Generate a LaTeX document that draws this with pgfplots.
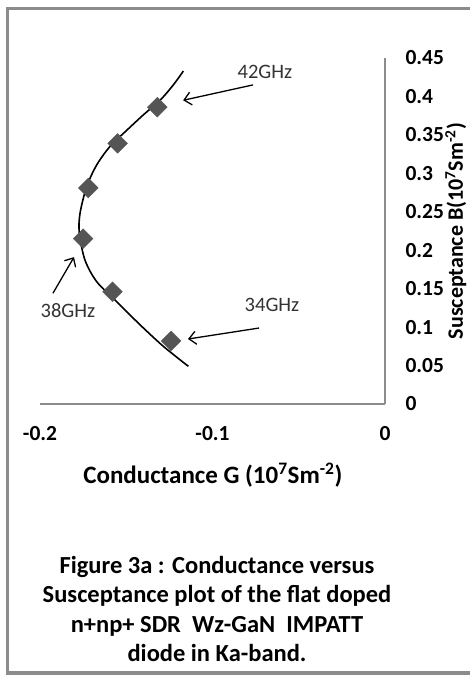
\documentclass[border=0pt]{standalone}
\usepackage{pgfplots}
\pgfplotsset{compat=1.18}
\usepackage{fontspec}
\setmainfont{Carlito}
\usetikzlibrary{arrows.meta}

\definecolor{framegray}{HTML}{8C8C8C}
\definecolor{axisgray}{HTML}{8C8C8C}
\definecolor{markgray}{HTML}{555555}
\definecolor{notegray}{HTML}{333333}

% measured points of the G-B locus (34 GHz ... 42 GHz)
\pgfplotstableread{
G       B
-0.124  0.082
-0.158  0.146
-0.175  0.215
-0.172  0.281
-0.155  0.339
-0.132  0.386
}\points

% fitted admittance curve
\pgfplotstableread{
G        B
-0.114   0.049
-0.1285  0.075
-0.142   0.103
-0.1555  0.133
-0.1671  0.159
-0.1739  0.187
-0.1772  0.222
-0.1768  0.248
-0.1729  0.283
-0.1671  0.311
-0.1594  0.335
-0.1497  0.356
-0.1401  0.376
-0.1304  0.395
-0.1227  0.415
-0.1169  0.433
}\curve

\begin{document}
\begin{tikzpicture}[x=1bp,y=1bp]
\useasboundingbox (0,0) rectangle (470,675);
% outer frame (open on the right)
\draw[framegray, line width=3bp] (470,666) -- (7,666) -- (7,2) -- (470,2);

\begin{axis}[
  at={(40bp,271bp)}, anchor=south west,
  scale only axis, width=345bp, height=346bp,
  xmin=-0.2, xmax=0, ymin=0, ymax=0.45,
  axis x line*=bottom, axis y line*=right,
  axis line style={axisgray, line width=1.6bp},
  xtick={-0.2,-0.1,0},
  ytick={0,0.05,...,0.45},
  major tick length=0pt,
  /pgf/number format/assume math mode=true,
  /pgf/number format/fixed,
  /pgf/number format/precision=2,
  ticklabel style={font=\fontsize{21.5bp}{23bp}\selectfont\bfseries},
  yticklabel style={anchor=west, xshift=17bp},
  xticklabel style={anchor=center, yshift=-30bp},
  xlabel={Conductance G (10\textsuperscript{7}Sm\textsuperscript{-2})},
  xlabel style={font=\fontsize{25bp}{27bp}\selectfont\bfseries,
    at={(axis description cs:0.501,-0.205)}, anchor=center},
  clip=false,
]
\addplot[black, line width=1.6bp, smooth, no markers] table[x=G,y=B] {\curve};
\addplot[only marks, mark=square*, mark size=7bp,
  mark options={rotate=45, fill=markgray, draw=markgray}] table[x=G,y=B] {\points};

% susceptance axis title, set over the tick labels
\node[rotate=90, inner sep=0pt, font=\fontsize{22bp}{24bp}\selectfont\bfseries]
  at (axis description cs:1.205,0.50) {Susceptance B(10\textsuperscript{7}Sm\textsuperscript{-2})};

% frequency annotations
\draw[-{Straight Barb[length=7bp,width=13bp]}, line width=1.3bp] (axis cs:-0.0765,0.415) -- (axis cs:-0.117,0.395);
\node[notegray, font=\fontsize{20.5bp}{22bp}\selectfont] at (axis cs:-0.0696,0.432) {42GHz};
\draw[-{Straight Barb[length=7bp,width=13bp]}, line width=1.3bp] (axis cs:-0.073,0.0988) -- (axis cs:-0.1142,0.0845);
\node[notegray, font=\fontsize{20.5bp}{22bp}\selectfont] at (axis cs:-0.0655,0.129) {34GHz};
\draw[-{Straight Barb[length=7bp,width=13bp]}, line width=1.3bp] (axis cs:-0.1925,0.144) -- (axis cs:-0.1803,0.191);
\node[notegray, font=\fontsize{20.5bp}{22bp}\selectfont] at (axis cs:-0.1838,0.122) {38GHz};
\end{axis}

\node[align=center, font=\fontsize{24.5bp}{29.5bp}\selectfont\bfseries, anchor=center]
  at (217,66) {Figure 3a : Conductance versus\\Susceptance plot of the flat doped\\n+np+ SDR\ \ Wz-GaN\ \ IMPATT\\diode in Ka-band.};
\end{tikzpicture}
\end{document}
